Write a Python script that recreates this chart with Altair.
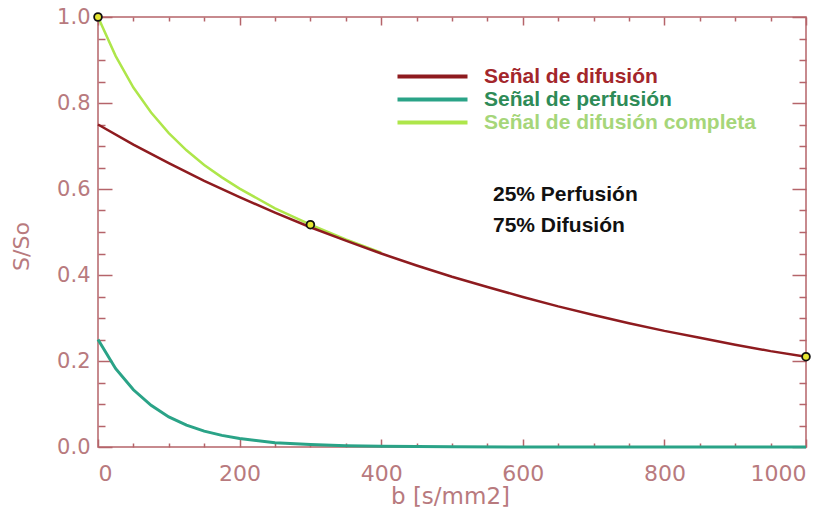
import altair as alt
import pandas as pd

# ---- data ----
b_diff = [0, 50, 100, 150, 200, 250, 300, 350, 400, 450, 500, 550, 600, 650, 700, 750, 800, 850, 900, 950, 1000]
s_diff = [0.750, 0.703, 0.660, 0.619, 0.581, 0.545, 0.511, 0.480, 0.450, 0.422, 0.396, 0.372, 0.349, 0.327, 0.307,
          0.288, 0.270, 0.254, 0.238, 0.223, 0.210]

b_perf = [0, 25, 50, 75, 100, 125, 150, 175, 200, 250, 300, 350, 400, 500, 600, 700, 800, 900, 1000]
s_perf = [0.250, 0.182, 0.133, 0.097, 0.070, 0.051, 0.037, 0.027, 0.020, 0.010, 0.006, 0.003, 0.0015, 0.0004,
          0.0001, 0.0, 0.0, 0.0, 0.0]

b_comp = [0, 25, 50, 75, 100, 125, 150, 175, 200, 250, 300, 350, 400]
s_comp = [1.000, 0.909, 0.836, 0.778, 0.730, 0.690, 0.656, 0.627, 0.601, 0.555, 0.517, 0.483, 0.452]

b_pts = [0, 300, 1000]
s_pts = [1.0, 0.517, 0.210]

series_names = ["Señal de difusión", "Señal de perfusión", "Señal de difusión completa"]
series_colors = ["#8e1b1f", "#2aa387", "#aee64a"]
label_colors = ["#a3262b", "#2e8b57", "#a6d67a"]

annot_lines = ["25% Perfusión", "75% Difusión"]

x_major = [0, 200, 400, 600, 800, 1000]
x_all = list(range(0, 1001, 50))
y_major = [0.0, 0.2, 0.4, 0.6, 0.8, 1.0]
y_all = [round(i * 0.05, 2) for i in range(21)]

# ---- frames ----
df_diff = pd.DataFrame({"b": b_diff, "s": s_diff, "serie": series_names[0]})
df_perf = pd.DataFrame({"b": b_perf, "s": s_perf, "serie": series_names[1]})
df_comp = pd.DataFrame({"b": b_comp, "s": s_comp, "serie": series_names[2]})
df_pts = pd.DataFrame({"b": b_pts, "s": s_pts})

W, H = 708, 430
AX = "#b5646a"
LAB = "#b87a7e"
FONT = "DejaVu Sans"

xscale = alt.Scale(domain=[0, 1000], nice=False, zero=False)
yscale = alt.Scale(domain=[0, 1], nice=False)

color = alt.Color(
    "serie:N",
    scale=alt.Scale(domain=series_names, range=series_colors),
    legend=alt.Legend(
        title=None, orient="none", legendX=324, legendY=49, padding=0,
        symbolType="M-7,0H7", symbolSize=100, symbolStrokeWidth=4,
        labelFont="Liberation Sans", labelFontSize=21, labelFontWeight="bold",
        labelColor={"expr": "datum.label == '%s' ? '%s' : datum.label == '%s' ? '%s' : '%s'" % (
            series_names[0], label_colors[0], series_names[1], label_colors[1], label_colors[2])},
        labelOffset=41, rowPadding=1, labelLimit=400,
    ),
)

x_main_axis = alt.Axis(orient="bottom", values=x_major, ticks=False, domain=False, grid=False, format="d",
                       labelFont=FONT, labelFontSize=22, labelColor=LAB, labelPadding=16,
                       title="b [s/mm2]", titleFont=FONT, titleFontSize=23, titleFontWeight="normal",
                       titleColor=LAB, titleX=352, titleY=49, titleBaseline="middle")
y_main_axis = alt.Axis(orient="left", values=y_major, ticks=False, domain=False, grid=False, format=".1f",
                       labelFont=FONT, labelFontSize=21, labelColor=LAB, labelPadding=8,
                       title="S/So", titleFont=FONT, titleFontSize=22, titleFontWeight="normal",
                       titleColor=LAB, titleAngle=270, titleX=-77, titleY=229,
                       titleAlign="center", titleBaseline="middle")

x_tick_cond = {"condition": {"test": "datum.value % 200 === 0", "value": 8}, "value": 4}
y_tick_cond = {"condition": {"test": "abs(datum.value * 5 - round(datum.value * 5)) < 0.001", "value": 14}, "value": 7}


def tick_axis(orient, values, size, offset):
    return alt.Axis(orient=orient, values=values, offset=offset, labels=False, domain=False, grid=False,
                    ticks=True, tickSize=size, tickColor=AX, tickWidth=1.5, title=None)


comp = alt.Chart(df_comp).mark_line(strokeWidth=2.5).encode(
    x=alt.X("b:Q", scale=xscale, axis=x_main_axis),
    y=alt.Y("s:Q", scale=yscale, axis=y_main_axis),
    color=color,
)
perf = alt.Chart(df_perf).mark_line(strokeWidth=3).encode(
    x=alt.X("b:Q", scale=xscale, axis=None), y=alt.Y("s:Q", scale=yscale, axis=None), color=color,
)
diff = alt.Chart(df_diff).mark_line(strokeWidth=2.5).encode(
    x=alt.X("b:Q", scale=xscale, axis=None), y=alt.Y("s:Q", scale=yscale, axis=None), color=color,
)
pts = alt.Chart(df_pts).mark_point(filled=True, size=60, fill="#e6e632", stroke="#111111",
                                   strokeWidth=1.8, opacity=1).encode(
    x=alt.X("b:Q", scale=xscale, axis=None), y=alt.Y("s:Q", scale=yscale, axis=None),
)

ticks_a = alt.Chart(df_pts).mark_point(opacity=0).encode(
    x=alt.X("b:Q", scale=xscale, axis=tick_axis("top", x_all, x_tick_cond, -H)),
    y=alt.Y("s:Q", scale=yscale, axis=tick_axis("right", y_all, y_tick_cond, -W)),
)
ticks_b = alt.Chart(df_pts).mark_point(opacity=0).encode(
    x=alt.X("b:Q", scale=xscale, axis=tick_axis("bottom", x_all, x_tick_cond, -H)),
    y=alt.Y("s:Q", scale=yscale, axis=tick_axis("left", y_all, y_tick_cond, -W)),
)

annot = [
    alt.Chart(pd.DataFrame({"t": [annot_lines[i]]})).mark_text(
        font="Liberation Sans", fontSize=21, fontWeight="bold", color="#111111",
        align="left", baseline="middle").encode(
        text="t:N", x=alt.value(395), y=alt.value(178 + 31 * i))
    for i in range(2)
]

chart = alt.layer(comp, perf, diff, pts, ticks_a, ticks_b, *annot).resolve_axis(
    x="independent", y="independent"
).properties(
    width=W, height=H,
    padding={"left": 90, "top": 9, "right": 20, "bottom": 64},
    autosize=alt.AutoSizeParams(type="none"),
    background="white",
).configure_view(stroke=AX, strokeWidth=1.5)

chart.save("out.html", embed_options={"renderer": "svg", "actions": False})
